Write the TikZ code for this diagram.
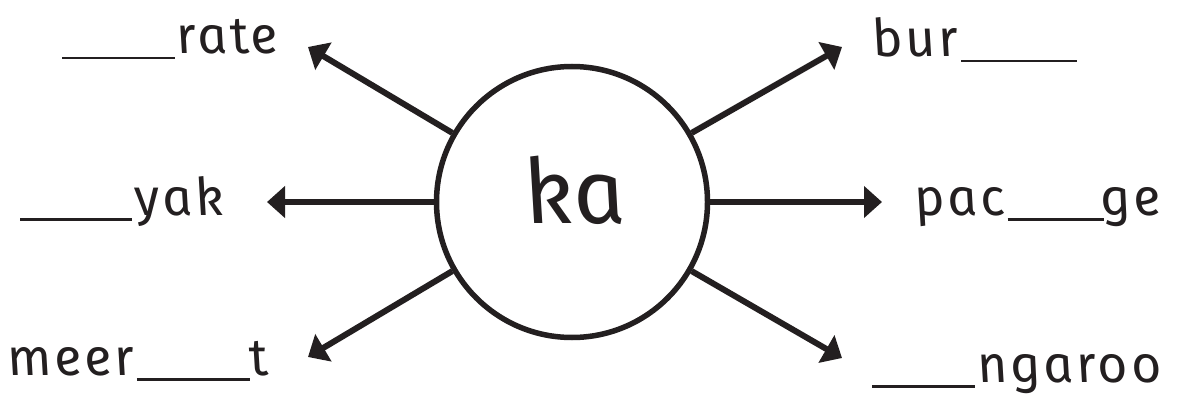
\documentclass[tikz,border=0pt]{standalone}
\usepackage{fontspec}
\usetikzlibrary{arrows.meta}
\newfontfamily\cur{Fira Sans}[ItalicFeatures={FakeSlant=-0.2,LetterSpace=6}]
\newfontfamily\curk{Fira Sans}[ItalicFeatures={FakeSlant=-0.2}]
\definecolor{ink}{HTML}{231F20}
\newcommand\blank[1]{\textcolor{ink}{\rule[-5.5pt]{#1}{2.8pt}}}
\begin{document}
\begin{tikzpicture}[x=1pt,y=-1pt,
  lbl/.style={font=\cur\itshape\fontsize{52}{52}\selectfont, text=ink, inner sep=0pt, anchor=base west},
  arr/.style={draw=ink, line width=6pt, -{Triangle[length=18pt,width=31pt]}}]
\useasboundingbox (0,0) rectangle (1186,401);
\node[circle, draw=ink, line width=5.5pt, minimum size=271pt, inner sep=0pt] (c) at (572,202) {};
\node[font=\curk\itshape\fontsize{90}{90}\selectfont, text=ink, inner sep=0pt] (ka) at (580,190) {ka};
\coordinate (t1) at (308,47);
\coordinate (t2) at (842,47);
\coordinate (t3) at (267,202);
\coordinate (t4) at (882,202);
\coordinate (t5) at (308,357);
\coordinate (t6) at (842,358);
\draw[arr] (c.150) -- (t1);
\draw[arr] (c.30) -- (t2);
\draw[arr] (c.180) -- (t3);
\draw[arr] (c.0) -- (t4);
\draw[arr] (c.210) -- (t5);
\draw[arr] (c.330) -- (t6);
\node[lbl] (l1) at (62,54) {\blank{113pt}\hspace{4pt}rate};
\node[lbl] (l2) at (875,57) {bur\blank{116pt}};
\node[lbl] (l3) at (20,215) {\blank{112pt}\hspace{5pt}yak};
\node[lbl] (l4) at (917,215) {pac\blank{96pt}ge};
\node[lbl] (l5) at (10,375) {meer\blank{113pt}\hspace{3pt}t};
\node[lbl] (l6) at (872,382) {\blank{103pt}\hspace{5pt}ngaroo};
\end{tikzpicture}
\end{document}
